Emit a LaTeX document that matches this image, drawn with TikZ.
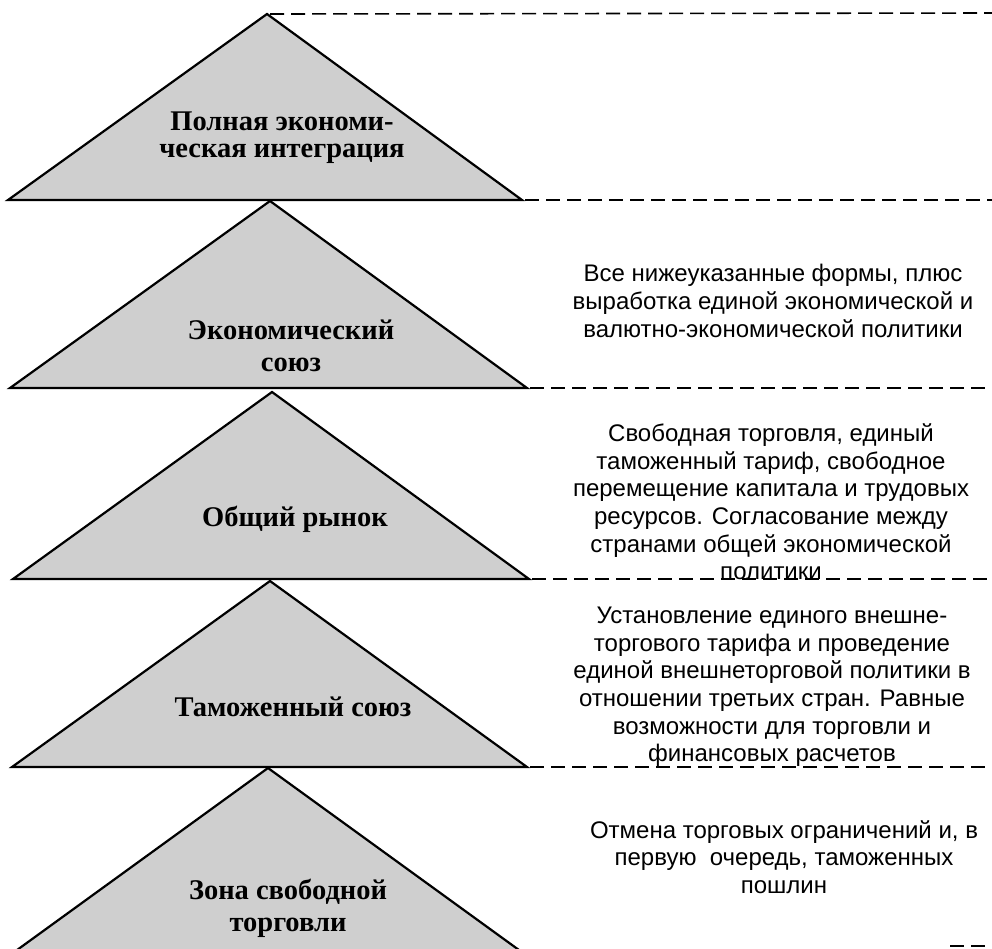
\documentclass[tikz,border=0pt]{standalone}
\usepackage{fontspec}
\setmainfont{Liberation Serif}
\newfontfamily\descfont{Liberation Sans}
\begin{document}
\begin{tikzpicture}[x=1pt,y=-1pt,
  tri/.style={draw=black,line width=2.2pt,fill=black!19,line join=miter},
  guide/.style={draw=black,line width=1.6pt,dash pattern=on 14pt off 7pt},
  lvl/.style={font=\fontsize{28.5}{32}\selectfont\bfseries,align=center,inner sep=0pt},
  desc/.style={font=\descfont\fontsize{24}{27.6}\selectfont,align=center,inner sep=0pt}]
\useasboundingbox (0,0) rectangle (992,948);
\begin{scope}
\clip (0,0) rectangle (992,948);
% triangle vertices
\coordinate (a1) at (267,14);  \coordinate (l1) at (8,200);  \coordinate (r1) at (522,200);
\coordinate (a2) at (270,201); \coordinate (l2) at (10,388); \coordinate (r2) at (527,388);
\coordinate (a3) at (272,392); \coordinate (l3) at (13,579); \coordinate (r3) at (529,579);
\coordinate (a4) at (270,581); \coordinate (l4) at (12,767); \coordinate (r4) at (527,767);
\coordinate (a5) at (268,768); \coordinate (l5) at (6,958);  \coordinate (r5) at (530,958);
\foreach \i in {1,...,5}{\draw[tri] (a\i) -- (r\i) -- (l\i) -- cycle;}
% right ends of the guide lines
\coordinate (e0) at (992,13);
\coordinate (e1) at (992,200);
\coordinate (e2) at (992,388);
\coordinate (e3) at (992,579);
\coordinate (e4) at (992,767);
\coordinate (s5) at (950,946); \coordinate (e5) at (992,946);
\draw[guide] ([xshift=3pt]a1) -- (e0);
\draw[guide] ([xshift=3pt]r1) -- (e1);
\draw[guide] ([xshift=3pt]r2) -- (e2);
\draw[guide] ([xshift=3pt]r3) -- (e3);
\draw[guide] ([xshift=3pt]r4) -- (e4);
\draw[guide] (s5) -- (e5);
\end{scope}
% level labels
\node[lvl,font=\fontsize{28.5}{27}\selectfont\bfseries] (t1) at (282,138) {Полная экономи-\\ческая интеграция};
\node[lvl] (t2) at (291,346) {Экономический\\союз};
\node[lvl] (t3) at (295,519) {Общий рынок};
\node[lvl] (t4) at (293,707) {Таможенный союз};
\node[lvl] (t5) at (288,908) {Зона свободной\\торговли};
% descriptions
\node[desc] (d2) at (773,301) {Все нижеуказанные формы, плюс\\выработка единой экономической и\\валютно-экономической политики};
\node[desc] (d3) at (771,502) {Свободная торговля, единый\\таможенный тариф, свободное\\перемещение капитала и трудовых\\ресурсов. Согласование между\\странами общей экономической\\политики};
\node[desc] (d4) at (772,687) {Установление единого внешне-\\торгового тарифа и проведение\\единой внешнеторговой политики в\\отношении третьих стран. Равные\\возможности для торговли и\\финансовых расчетов};
\node[desc] (d5) at (784,857) {Отмена торговых ограничений и, в\\первую\ \ очередь, таможенных\\пошлин};
\end{tikzpicture}
\end{document}
